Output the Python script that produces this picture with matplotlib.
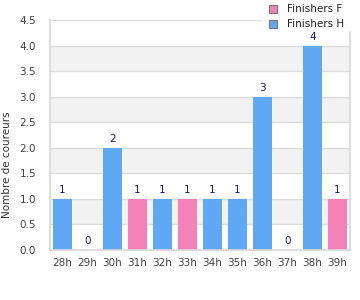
import numpy as np
import matplotlib
matplotlib.use("Agg")
import matplotlib.pyplot as plt
from matplotlib.patches import Rectangle

# données
categories = ["28h", "29h", "30h", "31h", "32h", "33h", "34h", "35h", "36h", "37h", "38h", "39h"]
finishers_f = [0, 0, 0, 1, 0, 1, 0, 0, 0, 0, 0, 1]
finishers_h = [1, 0, 2, 0, 1, 0, 1, 1, 3, 0, 4, 0]

COL_F = "#f282b8"
COL_H = "#60a8f4"
COL_LBL = "#1c1c8c"

fig = plt.figure(figsize=(3.6, 3.0), dpi=100)
ax = fig.add_axes([50 / 360, 50 / 300, 300 / 360, 230 / 300])

x = np.arange(len(categories))
ax.set_xlim(-0.5, len(categories) - 0.5)
ax.set_ylim(0, 4.5)

# bandes alternées
for y0 in np.arange(0.5, 4.5, 1.0):
    ax.axhspan(y0, y0 + 0.5, color="#f2f2f2", zorder=0, lw=0)
for y in np.arange(0.5, 4.6, 0.5):
    ax.axhline(y, color="#dcdcdc", lw=1, zorder=1)

ax.bar(x, finishers_h, width=0.76, color=COL_H, zorder=2)
ax.bar(x, finishers_f, width=0.76, bottom=finishers_h, color=COL_F, zorder=2)

# total au-dessus de chaque barre
totals = [f + h for f, h in zip(finishers_f, finishers_h)]
for xi, t in zip(x, totals):
    ax.annotate(str(t), (xi, t), xytext=(0, 6.5), textcoords="offset points",
                ha="center", va="center", fontsize=7.5, color=COL_LBL, zorder=8)

ax.set_xticks(x)
ax.set_xticklabels(categories)
ax.set_yticks(np.arange(0, 4.6, 0.5))
ax.set_yticklabels([f"{v:.1f}" for v in np.arange(0, 4.6, 0.5)])
ax.tick_params(length=0, labelsize=7.5, colors="#444444", pad=6)
ax.tick_params(axis="y", pad=10)

ax.spines["top"].set_visible(False)
for s in ["left", "right", "bottom"]:
    ax.spines[s].set_color("#d8d8d8")
    ax.spines[s].set_linewidth(1.2)

fig.text(7 / 360, 135 / 300, "Nombre de coureurs", rotation=90, fontsize=7.5,
         color="#333333", ha="center", va="center")

# légende (fond blanc qui masque le coin haut droit)
fig.patches.append(Rectangle((262 / 360, 270 / 300), 98 / 360, 30 / 300,
                             transform=fig.transFigure, color="white", zorder=5))
for i, (lab, col) in enumerate([("Finishers F", COL_F), ("Finishers H", COL_H)]):
    yc = 1 - (9 + 15 * i) / 300
    fig.patches.append(Rectangle((269 / 360, yc - 4 / 300), 8 / 360, 8 / 300,
                                 transform=fig.transFigure, facecolor=col,
                                 edgecolor="#777777", lw=0.8, zorder=6))
    fig.text(287 / 360, yc, lab, fontsize=7.5, color="#222222", va="center", zorder=7)

fig.savefig("out.png", dpi=100)
